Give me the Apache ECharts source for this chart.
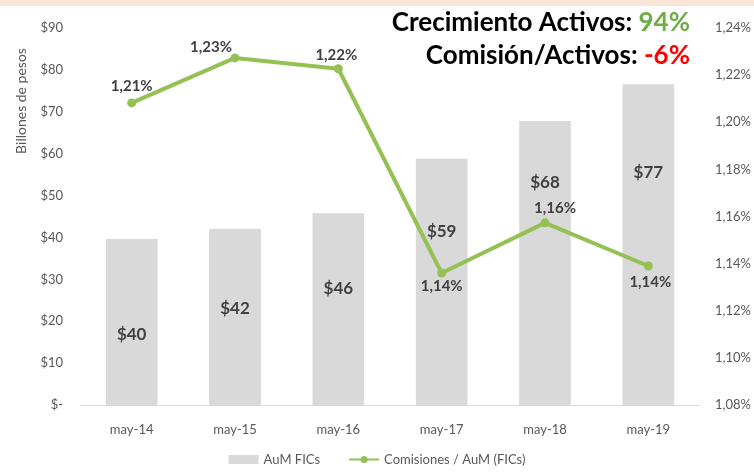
<!DOCTYPE html>
<html>
<head>
<meta charset="utf-8">
<script src="https://cdn.jsdelivr.net/npm/echarts@6/dist/echarts.min.js"></script>
<style>
    html, body { margin: 0; padding: 0; background: #fff; }
    #chart { width: 754px; height: 473px; }
</style>
</head>
<body>
<div id="chart"></div>
<script>
// datos
var categorias = ['may-14', 'may-15', 'may-16', 'may-17', 'may-18', 'may-19'];
var aumFics = [39.6, 42.1, 45.8, 58.8, 67.8, 76.6];
var comisiones = [1.2082, 1.2273, 1.2227, 1.136, 1.1573, 1.139];
var crecimiento = '94%';
var comisionActivos = '-6%';

// ajustes de posicion de etiquetas (como en excel, movidas a mano)
var barLabelDy = [95, 80, 75, 73, 62, 88];
var lineLabelPos = ['top', 'top', 'top', 'bottom', 'top', 'bottom'];
var lineLabelOffset = [[0, 0], [-24, 6], [-2, 3], [0, -4], [10, 2], [2, -1]];

var FONT = 'Lato, "Open Sans", sans-serif';
var chart = echarts.init(document.getElementById('chart'));

var barData = aumFics.map(function (v, i) {
    return {
        value: v,
        label: { position: ['50%', barLabelDy[i]] }
    };
});
var lineData = comisiones.map(function (v, i) {
    return {
        value: v,
        label: { position: lineLabelPos[i], offset: lineLabelOffset[i] }
    };
});

// los textos de graphic usan fill, no color
var tituloStyle = function (color) {
    return { fontFamily: FONT, fontWeight: 'bold', fontSize: 26, fill: color, lineHeight: 33 };
};

var option = {
    backgroundColor: '#ffffff',
    animation: false,
    textStyle: { fontFamily: FONT },
    graphic: [
        {
            type: 'rect',
            left: 0, top: 0,
            shape: { width: 754, height: 6 },
            style: { fill: '#fbe5d6' }
        },
        {
            type: 'text',
            x: 21, y: 101,
            rotation: Math.PI / 2,
            style: {
                text: 'Billones de pesos',
                fontFamily: FONT,
                fontSize: 14,
                fill: '#595959',
                textAlign: 'center',
                textVerticalAlign: 'middle'
            }
        },
        {
            type: 'text',
            x: 690, y: 6,
            z: 10,
            style: {
                text: '{a|Crecimiento Activos: }{g|' + crecimiento + '}\n{a|Comisión/Activos: }{r|' + comisionActivos + '}',
                align: 'right',
                verticalAlign: 'top',
                rich: {
                    a: tituloStyle('#000000'),
                    g: tituloStyle('#70ad47'),
                    r: tituloStyle('#ff0000')
                }
            }
        }
    ],
    legend: {
        bottom: 2,
        left: 'center',
        itemWidth: 30,
        itemHeight: 9,
        itemGap: 28,
        textStyle: { fontFamily: FONT, fontSize: 13, color: '#595959' },
        data: [
            { name: 'AuM FICs', icon: 'rect' },
            { name: 'Comisiones / AuM (FICs)' }
        ]
    },
    grid: { left: 80, right: 51, top: 28, bottom: 68 },
    xAxis: {
        type: 'category',
        data: categorias,
        axisLine: { lineStyle: { color: '#d9d9d9', width: 1 } },
        axisTick: { show: false },
        axisLabel: { color: '#595959', fontSize: 13, margin: 18, fontFamily: FONT }
    },
    yAxis: [
        {
            type: 'value',
            min: 0, max: 90, interval: 10,
            splitLine: { show: false },
            axisLine: { show: false },
            axisTick: { show: false },
            axisLabel: {
                color: '#595959', fontSize: 13, margin: 17, fontFamily: FONT,
                formatter: function (v) { return v === 0 ? '$-' : '$' + v; }
            }
        },
        {
            type: 'value',
            min: 1.08, max: 1.24, interval: 0.02,
            splitLine: { show: false },
            axisLine: { show: false },
            axisTick: { show: false },
            axisLabel: {
                color: '#595959', fontSize: 13, margin: 15, fontFamily: FONT,
                formatter: function (v) { return v.toFixed(2).replace('.', ',') + '%'; }
            }
        }
    ],
    series: [
        {
            name: 'AuM FICs',
            type: 'bar',
            data: barData,
            barWidth: '50%',
            itemStyle: { color: '#d9d9d9' },
            label: {
                show: true,
                align: 'center',
                verticalAlign: 'middle',
                fontFamily: FONT,
                fontSize: 17,
                fontWeight: 'bold',
                color: '#404040',
                formatter: function (p) { return '$' + Math.round(p.value); }
            }
        },
        {
            name: 'Comisiones / AuM (FICs)',
            type: 'line',
            yAxisIndex: 1,
            data: lineData,
            symbol: 'circle',
            symbolSize: 9,
            lineStyle: { color: '#94c054', width: 4 },
            itemStyle: { color: '#94c054' },
            label: {
                show: true,
                distance: 5,
                fontFamily: FONT,
                fontSize: 15,
                fontWeight: 'bold',
                color: '#404040',
                formatter: function (p) { return p.value.toFixed(2).replace('.', ',') + '%'; }
            }
        }
    ]
};

chart.setOption(option);
</script>
</body>
</html>
